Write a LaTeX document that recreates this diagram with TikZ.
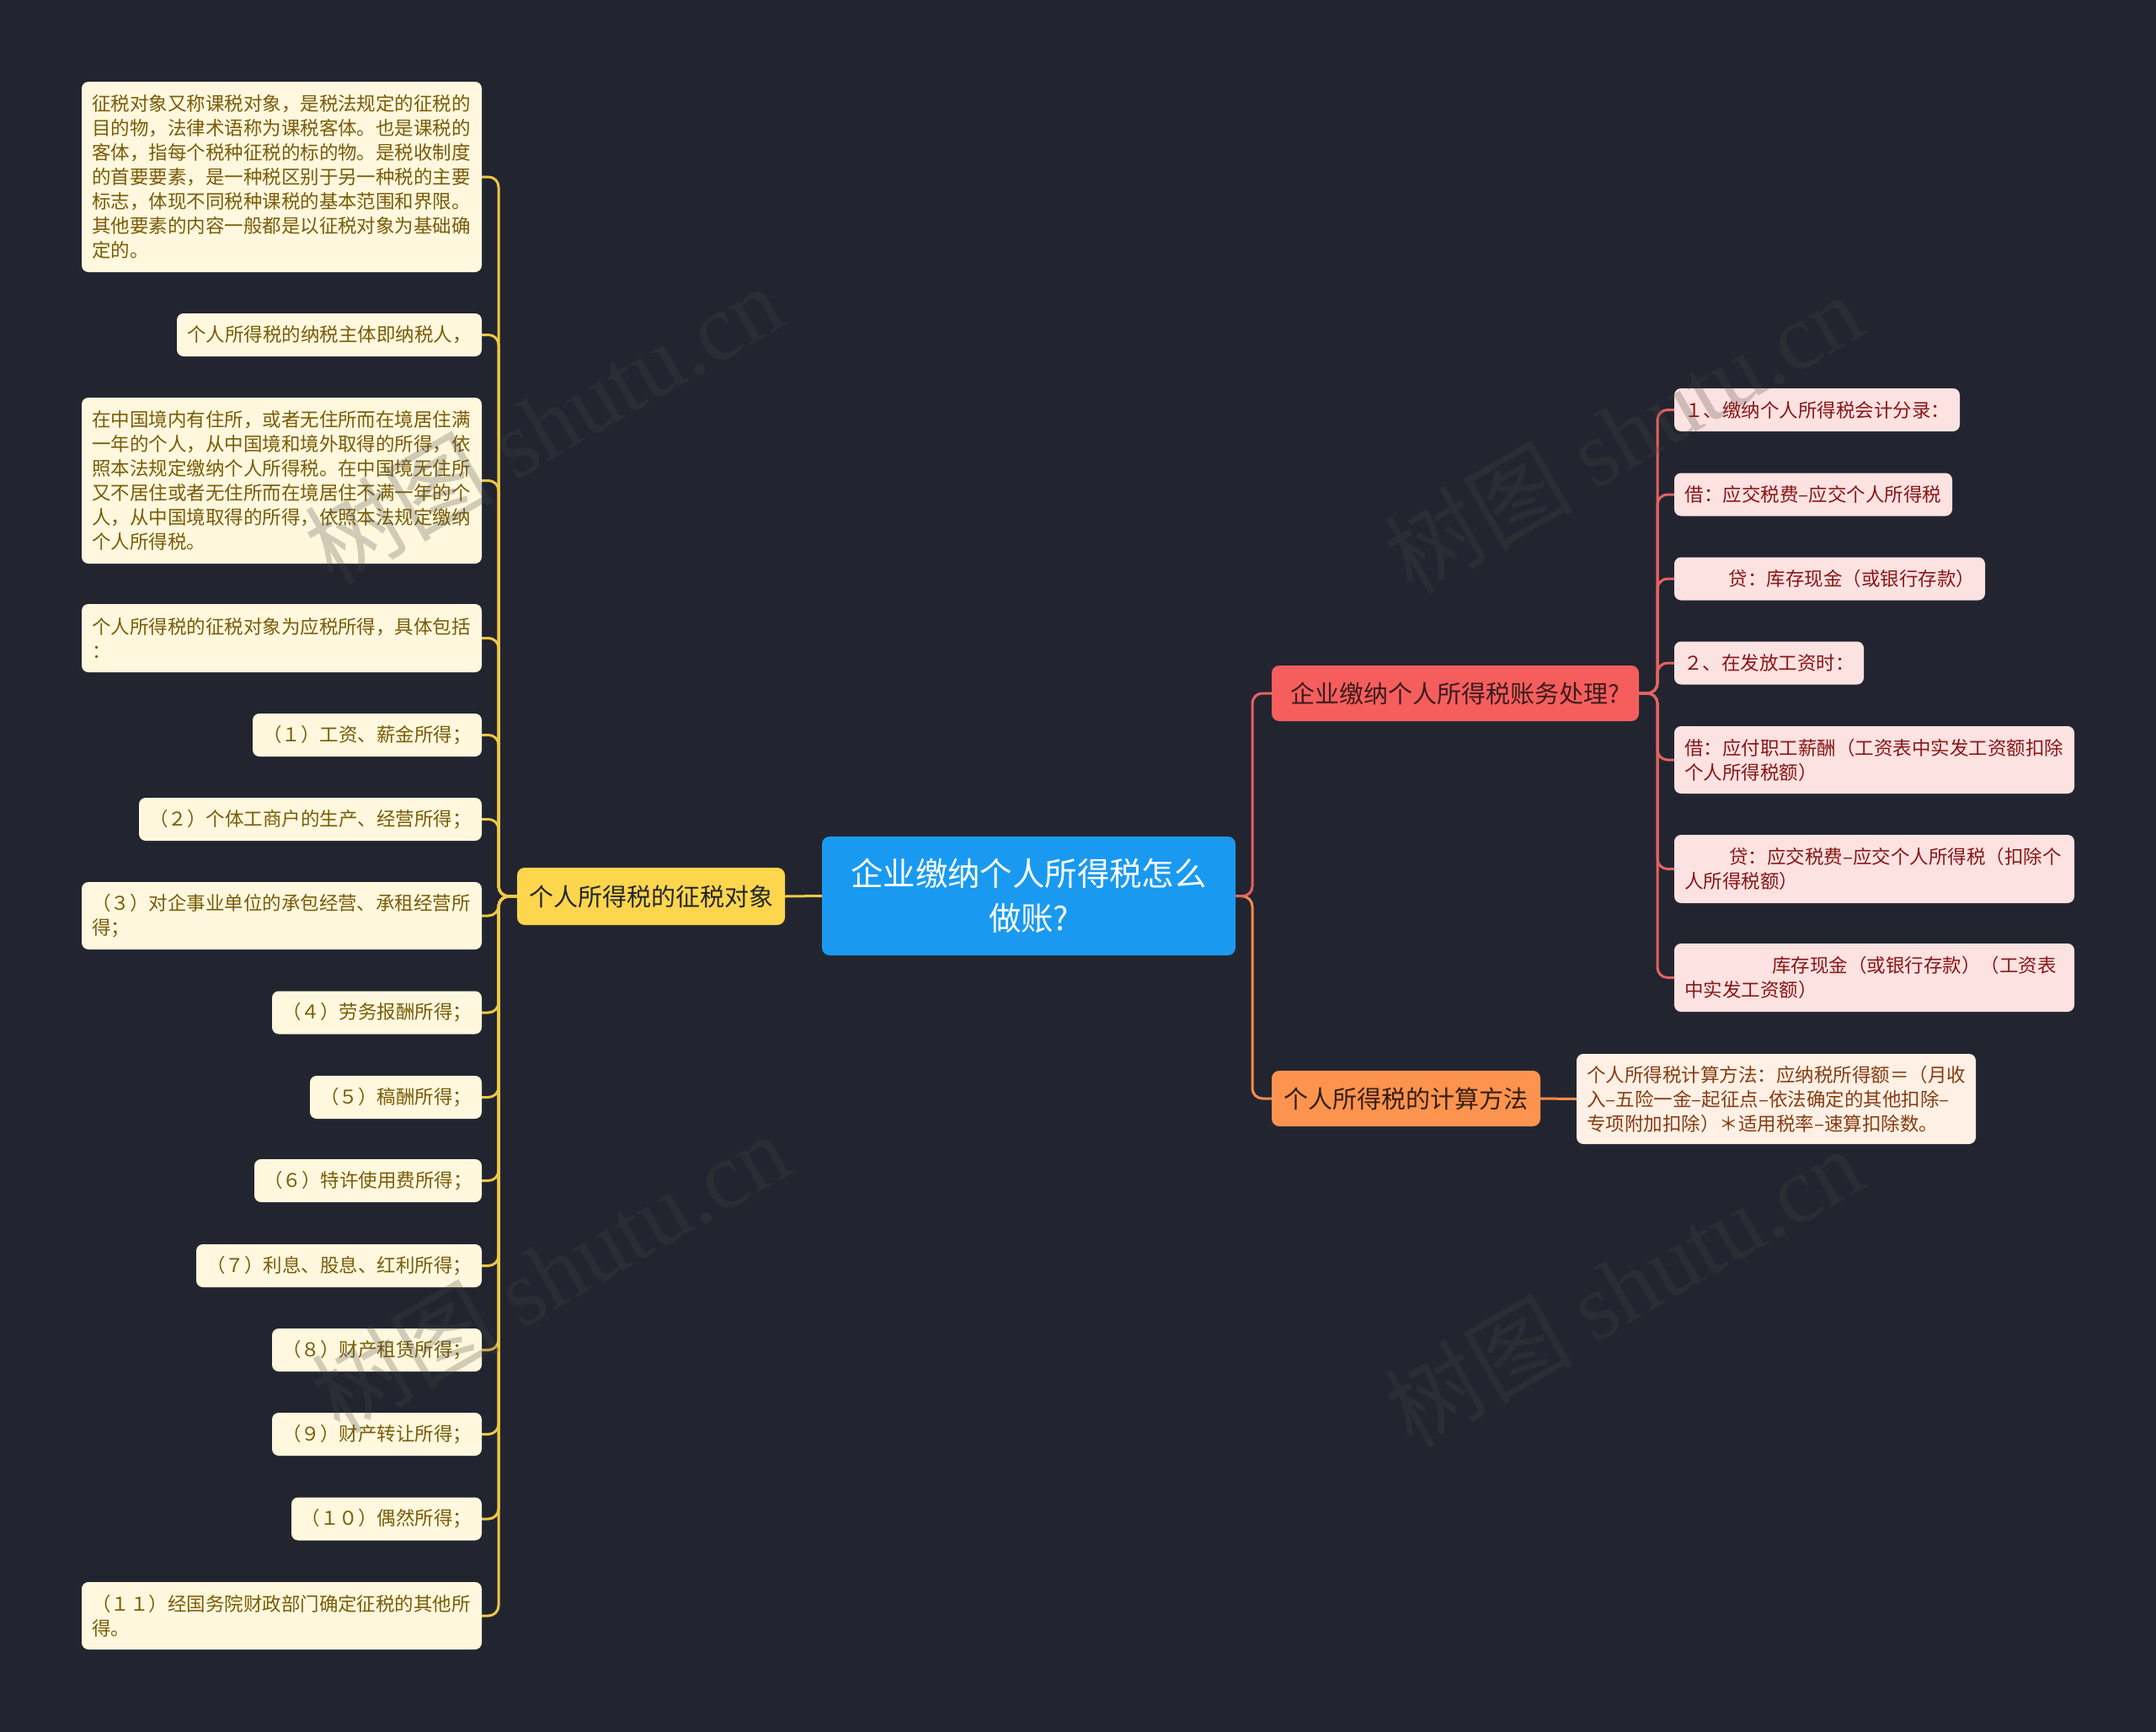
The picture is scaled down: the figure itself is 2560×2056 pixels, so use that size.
\documentclass[tikz,border=0pt]{standalone}
\usepackage{fontspec}
\setmainfont{Noto Sans CJK SC}
\newfontfamily\wmserif{Liberation Serif}
\definecolor{bgc}{RGB}{34,37,48}
\definecolor{bluefill}{RGB}{25,154,240}
\definecolor{yelfill}{RGB}{253,214,77}
\definecolor{ycon}{RGB}{240,200,70}
\definecolor{lleafc}{RGB}{255,248,222}
\definecolor{ltext}{RGB}{122,92,8}
\definecolor{redfill}{RGB}{246,94,94}
\definecolor{rcon}{RGB}{230,98,98}
\definecolor{rleafc}{RGB}{253,226,226}
\definecolor{rtext}{RGB}{138,22,22}
\definecolor{orafill}{RGB}{252,148,80}
\definecolor{ocon}{RGB}{245,140,75}
\definecolor{cleafc}{RGB}{254,240,228}
\definecolor{ctext}{RGB}{135,60,20}
\definecolor{wmc}{RGB}{70,70,70}
\pgfdeclarelayer{bglayer}
\pgfdeclarelayer{linelayer}
\pgfsetlayers{bglayer,linelayer,main}
\begin{document}
\begin{tikzpicture}[x=1pt,y=-1pt,
  leafbase/.style={rounded corners=8pt, inner xsep=0pt, inner ysep=0pt,
    font=\fontsize{22.5}{29}\selectfont},
  lleaf/.style={leafbase, fill=lleafc, text=ltext},
  lmulti/.style={lleaf, text width=451pt, inner xsep=12pt, align=left},
  rleaf/.style={leafbase, fill=rleafc, text=rtext},
  rmulti/.style={rleaf, text width=451pt, inner xsep=12pt, align=left},
  cmulti/.style={leafbase, fill=cleafc, text=ctext, text width=450pt, inner xsep=12pt, align=left},
  mainnode/.style={rounded corners=9pt, inner xsep=0pt, inner ysep=0pt},
  yline/.style={draw=ycon, line width=3pt, rounded corners=12pt},
  rline/.style={draw=rcon, line width=3pt, rounded corners=12pt},
  oline/.style={draw=ocon, line width=3pt, rounded corners=12pt},
  wm/.style={text=wmc, opacity=0.25, font=\fontsize{112}{120}\selectfont, rotate=30}
]
\begin{pgfonlayer}{bglayer}
\fill[bgc] (0,0) rectangle (2560,2056);
\end{pgfonlayer}
\useasboundingbox (0,0) rectangle (2560,2056);

% center and first level
\node[mainnode, fill=bluefill, text=white, minimum width=491pt, minimum height=141pt,
  text width=440pt, align=center, font=\fontsize{38.4}{53}\selectfont] (ctr) at (1221.5,1063.5)
  {企业缴纳个人所得税怎么\\做账?};
\node[mainnode, fill=yelfill, text=black!85, minimum width=318pt, minimum height=68pt,
  font=\fontsize{29}{35}\selectfont] (yel) at (773,1064) {个人所得税的征税对象};
\node[mainnode, fill=redfill, text={rgb,255:red,60;green,28;blue,28}, minimum width=436pt, minimum height=66pt,
  font=\fontsize{29}{35}\selectfont] (red) at (1728,823) {企业缴纳个人所得税账务处理?};
\node[mainnode, fill=orafill, text={rgb,255:red,55;green,30;blue,18}, minimum width=319pt, minimum height=66pt,
  font=\fontsize{29}{35}\selectfont] (ora) at (1669.5,1304) {个人所得税的计算方法};

% left leaves
\node[lmulti, minimum height=226pt] (l1) at (334.5,210) {征税对象又称课税对象，是税法规定的征税的\\目的物，法律术语称为课税客体。也是课税的\\客体，指每个税种征税的标的物。是税收制度\\的首要要素，是一种税区别于另一种税的主要\\标志，体现不同税种课税的基本范围和界限。\\其他要素的内容一般都是以征税对象为基础确\\定的。};
\node[lleaf, minimum width=362pt, minimum height=51pt] (l2) at (391,397.5) {个人所得税的纳税主体即纳税人，};
\node[lmulti, minimum height=197pt] (l3) at (334.5,570.5) {在中国境内有住所，或者无住所而在境居住满\\一年的个人，从中国境和境外取得的所得，依\\照本法规定缴纳个人所得税。在中国境无住所\\又不居住或者无住所而在境居住不满一年的个\\人，从中国境取得的所得，依照本法规定缴纳\\个人所得税。};
\node[lmulti, minimum height=81pt] (l4) at (334.5,757.5) {个人所得税的征税对象为应税所得，具体包括\\：};
\node[lleaf, minimum width=272pt, minimum height=51pt] (l5) at (436,872.5) {（１）工资、薪金所得；};
\node[lleaf, minimum width=407pt, minimum height=51pt] (l6) at (368.5,972.5) {（２）个体工商户的生产、经营所得；};
\node[lmulti, minimum height=80pt] (l7) at (334.5,1087) {（３）对企事业单位的承包经营、承租经营所\\得；};
\node[lleaf, minimum width=249pt, minimum height=51pt] (l8) at (447.5,1202) {（４）劳务报酬所得；};
\node[lleaf, minimum width=204pt, minimum height=51pt] (l9) at (470,1302.5) {（５）稿酬所得；};
\node[lleaf, minimum width=270pt, minimum height=51pt] (l10) at (437,1401.5) {（６）特许使用费所得；};
\node[lleaf, minimum width=339pt, minimum height=51pt] (l11) at (402.5,1502.5) {（７）利息、股息、红利所得；};
\node[lleaf, minimum width=249pt, minimum height=51pt] (l12) at (447.5,1602.5) {（８）财产租赁所得；};
\node[lleaf, minimum width=249pt, minimum height=51pt] (l13) at (447.5,1702.5) {（９）财产转让所得；};
\node[lleaf, minimum width=226pt, minimum height=51pt] (l14) at (459,1803) {（１０）偶然所得；};
\node[lmulti, minimum height=80pt] (l15) at (334.5,1918) {（１１）经国务院财政部门确定征税的其他所\\得。};

% right leaves
\node[rleaf, minimum width=339pt, minimum height=51pt] (c1) at (2157.5,486.5) {１、缴纳个人所得税会计分录：};
\node[rleaf, minimum width=330pt, minimum height=51pt] (c2) at (2153,587) {借：应交税费–应交个人所得税};
\node[rleaf, minimum width=369pt, minimum height=51pt] (c3) at (2172.5,687) {\hspace*{53pt}贷：库存现金（或银行存款）};
\node[rleaf, minimum width=225pt, minimum height=51pt] (c4) at (2100.5,787) {２、在发放工资时：};
\node[rmulti, minimum height=80pt] (c5) at (2225.5,902) {借：应付职工薪酬（工资表中实发工资额扣除\\个人所得税额）};
\node[rmulti, minimum height=81pt] (c6) at (2225.5,1031.5) {\hspace*{53pt}贷：应交税费–应交个人所得税（扣除个\\人所得税额）};
\node[rmulti, minimum height=81pt] (c7) at (2225.5,1160.5) {\hspace*{104pt}库存现金（或银行存款）（工资表\\中实发工资额）};
\node[cmulti, minimum height=107pt] (calc) at (2109,1304.5) {个人所得税计算方法：应纳税所得额＝（月收\\入–五险一金–起征点–依法确定的其他扣除–\\专项附加扣除）＊适用税率–速算扣除数。};

% connectors
\coordinate (lj) at (592,1064);
\coordinate (rj) at (1487,1064);
\coordinate (rj2) at (1968,823);
\begin{pgfonlayer}{linelayer}
\foreach \n in {l1,l2,l3,l4,l5,l6,l7,l8,l9,l10,l11,l12,l13,l14,l15}
  \draw[yline] (yel.west) -- (lj) |- (\n.east);
\draw[yline] (yel.east) -- (ctr.west);
\draw[oline] (ctr.east) -- (rj) |- (ora.west);
\draw[rline] (ctr.east) -- (rj) |- (red.west);
\foreach \n in {c1,c2,c3,c4,c5,c6,c7}
  \draw[rline] (red.east) -- (rj2) |- (\n.west);
\draw[oline] (ora.east) -- (calc.west);
\end{pgfonlayer}

% watermarks
\node[wm] (wm1) at (645,503) {树图 {\wmserif shutu.cn}};
\node[wm] (wm2) at (653,1510) {树图 {\wmserif shutu.cn}};
\node[wm] (wm3) at (1927,514) {树图 {\wmserif shutu.cn}};
\node[wm] (wm4) at (1927,1527) {树图 {\wmserif shutu.cn}};
\end{tikzpicture}
\end{document}
